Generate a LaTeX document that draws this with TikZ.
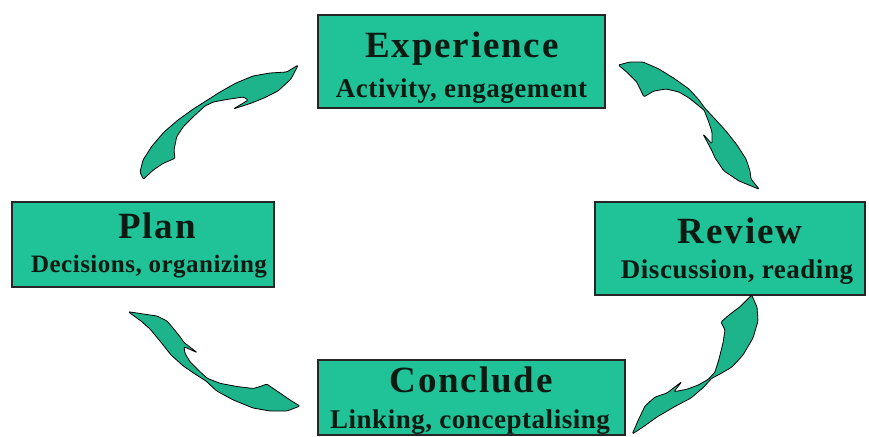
\documentclass[tikz,border=0pt]{standalone}
\usepackage{fontspec}
\setmainfont{Liberation Serif}
\newfontfamily\titlefont[LetterSpace=5]{Liberation Serif}
\newfontfamily\subfont[LetterSpace=2]{Liberation Serif}
\definecolor{boxfill}{HTML}{20C298}
\definecolor{arrowfill}{HTML}{1DB48C}
\definecolor{ink}{HTML}{0C1A12}
\tikzset{
  stagebox/.style={draw=black!85, line width=1.1pt, fill=boxfill, inner sep=0pt},
  stagetitle/.style={anchor=base, inner sep=0pt, text=ink, font=\titlefont\bfseries\fontsize{37}{42}\selectfont},
  stagesub/.style={anchor=base, inner sep=0pt, text=ink, font=\subfont\bfseries\fontsize{27}{31}\selectfont},
  curvearrow/.style={draw=black, line width=0.8pt, fill=arrowfill, line join=round, rounded corners=1.2pt}
}
\begin{document}
\begin{tikzpicture}[x=1pt,y=-1pt]
\useasboundingbox (0,0) rectangle (869,436);
% boxes
\node[stagebox, minimum width=287pt, minimum height=93pt] (exp) at (461.5,61.5) {};
\node[stagebox, minimum width=270pt, minimum height=93pt] (rev) at (730,248.5) {};
\node[stagebox, minimum width=262pt, minimum height=85pt] (plan) at (143,244.5) {};
\node[stagebox, minimum width=307pt, minimum height=75pt] (conc) at (471.5,397.5) {};
% texts
\node[stagetitle] (expt) at (462,57) {Experience};
\node[stagesub] (exps) at (461.5,97) {Activity, engagement};
\node[stagetitle] (revt) at (740,243) {Review};
\node[stagesub] (revs) at (737,278) {Discussion, reading};
\node[stagetitle] (plant) at (157,238) {Plan};
\node[stagesub, font=\subfont\bfseries\fontsize{25}{29}\selectfont] (plans) at (149,272) {Decisions, organizing};
\node[stagetitle] (conct) at (471,392) {Conclude};
\node[stagesub] (concs) at (470,428) {Linking, conceptalising};
% arrow Experience -> Review
\draw[curvearrow] (618.3,65) -- (630,62) -- (643,62) -- (659,69) -- (675,79) -- (689,89) -- (699,100) -- (705,108.3) -- (715,119) -- (726,131) -- (737,145) -- (746,159) -- (750,171) -- (751,179) -- (759.3,189.3) -- (739,181) -- (724,171) -- (715,158) -- (712,151) -- (703,134) -- (712,144) -- (712,132) -- (708,120) -- (704,110) -- (699,106) -- (689,98) -- (679,92) -- (666,89) -- (654,91) -- (647,95) -- (644,97) -- (636.7,82) -- (626.7,72) -- cycle;
% arrow Review -> Conclude
\draw[curvearrow] (751.7,295) -- (757,307) -- (758,321) -- (753,338) -- (743,355) -- (732,367) -- (720,374) -- (711.7,378.3) -- (703.3,387.5) -- (691,398) -- (674,407) -- (657,417) -- (643,427) -- (632.3,434) -- (638.3,420) -- (645,406) -- (655,397) -- (667,393) -- (681.7,381.7) -- (674,391.7) -- (686.7,389.3) -- (698.3,385) -- (708.3,379.3) -- (715,372) -- (719,359) -- (723,343) -- (725,330) -- (721,322) -- (729,315) -- (740,306.7) -- cycle;
% arrow Conclude -> Plan
\draw[curvearrow] (128.3,311.7) -- (143.3,314) -- (157,316) -- (167,321) -- (173,328) -- (181,338) -- (184,342.5) -- (197.3,352.7) -- (184,346.7) -- (185,353.3) -- (190,361.7) -- (200,371.7) -- (207.3,378.3) -- (220,383.3) -- (236.7,386.5) -- (253.3,388.5) -- (261.7,386) -- (266.7,384) -- (277,391) -- (290,400) -- (300,406) -- (287,411) -- (270,411) -- (253,408) -- (233.3,400) -- (216.7,391) -- (206,381) -- (195,374) -- (183.3,366) -- (171,355) -- (160,341) -- (150,329) -- (141,321) -- (133.3,315.5) -- cycle;
% arrow Plan -> Experience
\draw[curvearrow] (298.3,65) -- (286.7,72) -- (270,73) -- (253,76) -- (236,83) -- (220,92) -- (206.7,100.5) -- (193.3,109) -- (178,120) -- (164,132) -- (152,146) -- (143,160) -- (140,172) -- (143.3,179.3) -- (153.3,170) -- (163.3,163.3) -- (175,158.3) -- (174,150) -- (176.7,136.7) -- (183.3,126.7) -- (193.3,116.7) -- (205,106) -- (213.3,102) -- (226.7,99.5) -- (243.3,97) -- (248.3,100) -- (233.3,109) -- (251.7,103) -- (264,98) -- (278,91) -- (291,79) -- cycle;
\end{tikzpicture}
\end{document}
